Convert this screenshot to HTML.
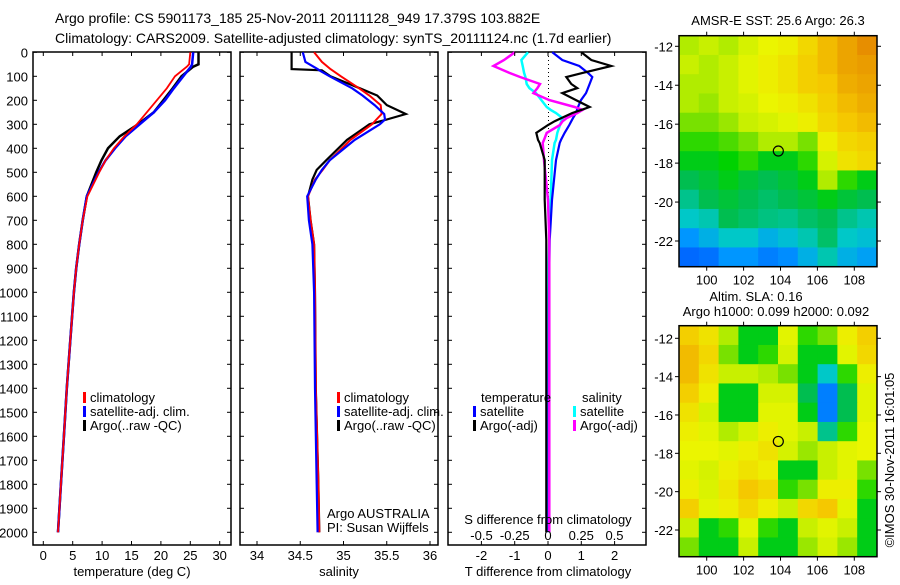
<!DOCTYPE html>
<html><head><meta charset="utf-8"><style>
html,body{margin:0;padding:0;background:#fff;}
svg text{font-family:"Liberation Sans",sans-serif;fill:#000;}
</style></head><body>
<svg id="c" width="900" height="580" viewBox="0 0 900 580" xmlns="http://www.w3.org/2000/svg">
<text x="55" y="23" font-size="14">Argo profile: CS 5901173_185 25-Nov-2011 20111128_949 17.379S 103.882E</text>
<text x="55" y="43" font-size="14">Climatology: CARS2009. Satellite-adjusted climatology: synTS_20111124.nc (1.7d earlier)</text>
<g id="g"></g>
</svg>
<script>
// ---- data ----
const tDepths=[0,50,60,100,150,200,250,300,350,400,450,500,600,700,800,900,1000,1200,1400,1600,1800,2000];
const tempArgo=[26.4,26.4,25.5,23.5,22.0,20.4,18.8,16.1,13.0,11.0,9.9,9.0,7.4,6.7,6.1,5.6,5.2,4.6,4.0,3.5,3.0,2.5];
const tempClim=[25.0,24.8,24.4,22.4,21.0,19.3,17.6,15.9,13.8,12.0,10.6,9.5,7.5,6.7,6.1,5.6,5.2,4.6,4.0,3.5,3.0,2.5];
const tempSat=[25.5,25.3,25.1,23.8,22.2,20.7,18.8,16.4,14.0,12.2,10.6,9.4,7.4,6.7,6.1,5.6,5.2,4.6,4.0,3.5,3.0,2.5];
const sDepths=[0,40,70,75,100,150,180,220,257,280,300,365,450,490,530,600,700,800,1000,1400,1800,2000];
const salArgo=[34.40,34.40,34.40,34.75,34.85,35.19,35.39,35.5,35.72,35.5,35.3,35.04,34.8,34.69,34.64,34.59,34.62,34.66,34.67,34.68,34.71,34.72];
const salClim=[34.66,34.75,34.85,34.87,34.97,35.18,35.3,35.43,35.44,35.38,35.33,35.08,34.84,34.76,34.67,34.59,34.62,34.66,34.67,34.68,34.71,34.72];
const salSat=[34.53,34.56,34.7,34.72,34.84,35.1,35.22,35.36,35.47,35.48,35.42,35.13,34.84,34.75,34.68,34.58,34.6,34.64,34.66,34.67,34.69,34.70];
const dDepths=[0,32,57,86,103,132,149,170,199,228,240,253,274,287,303,336,365,378,449,615,782,1000,1500,2000];
const tDiffArgo=[1.0,1.3,1.9,1.04,0.55,0.7,0.88,0.43,0.84,1.25,1.0,0.73,0.4,0.2,0.0,-0.35,-0.3,-0.25,-0.1,-0.1,-0.05,-0.05,-0.05,-0.05];
const tDiffSat=[0.13,0.43,0.94,1.2,1.33,1.25,1.2,1.14,0.99,0.9,0.87,0.84,0.75,0.7,0.64,0.5,0.39,0.35,0.24,0.12,0.05,0.03,0.02,0.02];
const sDiffArgo=[-0.25,-0.33,-0.41,-0.29,-0.21,-0.06,-0.08,-0.11,0.01,0.2,0.26,0.22,0.14,0.11,0.09,-0.01,-0.03,-0.04,-0.03,0,0.01,0.01,0.01,0.01];
const sDiffSat=[-0.15,-0.2,-0.19,-0.18,-0.17,-0.16,-0.14,-0.09,-0.05,-0.01,0.02,0.06,0.11,0.1,0.09,0.07,0.06,0.05,0.03,0.02,0.01,0,0,0];
const depthTicks=[0,100,200,300,400,500,600,700,800,900,1000,1100,1200,1300,1400,1500,1600,1700,1800,1900,2000];
const tempTicks=[0,5,10,15,20,25,30];
const salTicks=[34,34.5,35,35.5,36];
const tDiffTicks=[-2,-1,0,1,2];
const sDiffTicks=[-0.5,-0.25,0,0.25,0.5];
const sDiffTickLabels=["-0.5","-0.25","0","0.25","0.5"];
const lonTicks=[100,102,104,106,108];
const latTicks=[-12,-14,-16,-18,-20,-22];
const sstGrid=[
[.6,.62,.6,.65,.7,.72,.78,.85,.9,.95],
[.62,.6,.62,.68,.72,.75,.8,.85,.9,.92],
[.6,.6,.62,.68,.72,.75,.8,.82,.88,.9],
[.6,.58,.62,.65,.7,.72,.75,.8,.85,.88],
[.55,.55,.58,.62,.65,.68,.72,.78,.82,.85],
[.5,.5,.52,.55,.6,.6,.55,.72,.78,.8],
[.45,.45,.47,.5,.45,.45,.5,.65,.75,.78],
[.4,.42,.45,.42,.4,.42,.45,.6,.5,.45],
[.35,.4,.42,.4,.38,.4,.42,.45,.42,.4],
[.3,.32,.4,.38,.36,.35,.38,.4,.35,.32],
[.2,.25,.3,.3,.25,.28,.32,.38,.3,.28],
[.1,.12,.2,.2,.15,.18,.25,.32,.25,.22]];
const slaGrid=[
[.8,.75,.6,.45,.45,.68,.5,.55,.72,.8],
[.85,.78,.55,.45,.5,.65,.45,.45,.68,.78],
[.85,.75,.62,.62,.6,.55,.45,.3,.5,.72],
[.8,.72,.45,.45,.65,.65,.4,.15,.4,.68],
[.75,.65,.45,.45,.68,.68,.45,.15,.4,.68],
[.72,.68,.6,.65,.72,.68,.62,.35,.5,.7],
[.7,.7,.68,.72,.75,.65,.58,.62,.68,.7],
[.68,.65,.72,.75,.72,.45,.45,.62,.68,.55],
[.72,.66,.74,.82,.78,.5,.55,.72,.72,.5],
[.8,.68,.72,.78,.72,.62,.78,.82,.68,.45],
[.62,.45,.5,.68,.5,.45,.62,.68,.62,.45],
[.55,.45,.45,.62,.45,.45,.58,.65,.58,.45]];
const floatLon=103.882, floatLat=-17.379;

// ---- helpers ----
const NS="http://www.w3.org/2000/svg", G=document.getElementById('g');
function el(t,a,txt){const e=document.createElementNS(NS,t);for(const k in a)e.setAttribute(k,a[k]);if(txt!==undefined)e.textContent=txt;G.appendChild(e);return e;}
const yD=d=>52.3+d*0.24;
const PB=545;
const xT=v=>43.3+v*5.88, xS=v=>257+(v-34)*86.5, xTd=v=>548+v*33.3, xSd=v=>548+v*133;
function panel(x0,x1,name){const r=el('rect',{x:x0,y:52,width:x1-x0,height:PB-52,fill:'none',stroke:'#000','stroke-width':1.5});
 depthTicks.forEach(d=>{el('line',{x1:x0,x2:x0+4,y1:yD(d),y2:yD(d),stroke:'#000'});el('line',{x1:x1-4,x2:x1,y1:yD(d),y2:yD(d),stroke:'#000'});});}
function line(xs,ds,fx,col,name,w){const p=xs.map((v,i)=>fx(v).toFixed(1)+','+yD(ds[i]).toFixed(1)).join(' ');const e=el('polyline',{points:p,fill:'none',stroke:col,'stroke-width':w||2});}
function xticks(ticks,fx,labels,y,top){ticks.forEach((t,i)=>{const x=fx(t);el('line',{x1:x,x2:x,y1:PB,y2:PB-4,stroke:'#000'});if(top)el('line',{x1:x,x2:x,y1:52,y2:56,stroke:'#000'});const e=el('text',{x:x,y:y,'font-size':13,'text-anchor':'middle'},labels?labels[i]:String(t));});}
function legend(x,y,col,txt){el('rect',{x:x,y:y-10,width:3,height:11,fill:col});const e=el('text',{x:x+7,y:y,'font-size':13},txt);}

depthTicks.forEach(d=>{const e=el('text',{x:28,y:yD(d)+5,'font-size':13,'text-anchor':'end'},String(d));});

// Panel 1 temperature
panel(33,231,'temperature-panel');
xticks(tempTicks,xT,null,560,true);
el('text',{x:132,y:576,'font-size':13,'text-anchor':'middle',},'temperature (deg C)');
line(tempArgo,tDepths,xT,'#000','temp-argo-line',2.5);
line(tempSat,tDepths,xT,'#0000ff','temp-satellite-line',2.5);
line(tempClim,tDepths,xT,'#ff0000','temp-climatology-line',1.8);
legend(83,402,'#ff0000','climatology');legend(83,416,'#0000ff','satellite-adj. clim.');legend(83,430,'#000','Argo(..raw -QC)');

// Panel 2 salinity
panel(240,438,'salinity-panel');
xticks(salTicks,xS,null,560,true);
el('text',{x:339,y:576,'font-size':13,'text-anchor':'middle',},'salinity');
line(salArgo,sDepths,xS,'#000','salinity-argo-line',2.2);
line(salClim,sDepths,xS,'#ff0000','salinity-climatology-line',2);
line(salSat,sDepths,xS,'#0000ff','salinity-satellite-line',2.2);
legend(337,402,'#ff0000','climatology');legend(337,416,'#0000ff','satellite-adj. clim.');legend(337,430,'#000','Argo(..raw -QC)');
el('text',{x:327,y:518,'font-size':13,},'Argo AUSTRALIA');
el('text',{x:327,y:532,'font-size':13,},'PI: Susan Wijffels');

// Panel 3 differences
panel(448,646,'difference-panel');
el('line',{x1:548.5,x2:548.5,y1:52,y2:200,stroke:'#000','stroke-dasharray':'1,3',});
line(sDiffSat,dDepths,xSd,'#00ffff','salinity-diff-satellite-line',2.5);
line(tDiffSat,dDepths,xTd,'#0000ff','temp-diff-satellite-line',2.2);
line(sDiffArgo,dDepths,xSd,'#ff00ff','salinity-diff-argo-line',2.5);
line(tDiffArgo,dDepths,xTd,'#000','temp-diff-argo-line',2.2);
xticks(tDiffTicks,xTd,null,560,true);
sDiffTicks.forEach((t,i)=>{const e=el('text',{x:xSd(t),y:540,'font-size':13,'text-anchor':'middle'},sDiffTickLabels[i]);});
el('text',{x:548,y:524,'font-size':13,'text-anchor':'middle',},'S difference from climatology');
el('text',{x:548,y:576,'font-size':13,'text-anchor':'middle',},'T difference from climatology');
el('text',{x:481,y:402,'font-size':13,},'temperature');
el('text',{x:582,y:402,'font-size':13,},'salinity');
legend(473,416,'#0000ff','satellite');legend(473,430,'#000','Argo(-adj)');
legend(573,416,'#00ffff','satellite');legend(573,430,'#ff00ff','Argo(-adj)');

// ---- maps ----
function cmap(v){const st=[[0,[0,60,255]],[.2,[0,150,255]],[.3,[0,200,200]],[.4,[0,190,80]],[.47,[0,210,0]],[.55,[120,225,0]],[.62,[200,240,0]],[.7,[235,245,0]],[.82,[245,200,0]],[1,[225,120,0]]];
 for(let i=1;i<st.length;i++){if(v<=st[i][0]){const a=st[i-1],b=st[i],f=(v-a[0])/(b[0]-a[0]);return 'rgb('+a[1].map((c,k)=>Math.round(c+(b[1][k]-c)*f)).join(',')+')';}}return 'rgb(225,120,0)';}
function map(grid,top,bottom,latA,latB,name){
 const L=679,R=877,lonX=v=>706.7+(v-100)*18.45,latY=v=>latA+(v+12)*(latB-latA)/-10;
 const rows=grid.length,cols=grid[0].length,cw=(R-L)/cols,ch=(bottom-top)/rows;
 grid.forEach((row,r)=>row.forEach((v,c)=>{const e=el('rect',{x:L+c*cw,y:top+r*ch,width:cw+0.5,height:ch+0.5,fill:cmap(v)});}));
 const b=el('rect',{x:L,y:top,width:R-L,height:bottom-top,fill:'none',stroke:'#000','stroke-width':1.5});
 lonTicks.forEach(t=>{const x=lonX(t);el('line',{x1:x,x2:x,y1:bottom,y2:bottom+4,stroke:'#000'});el('line',{x1:x,x2:x,y1:top,y2:top-4,stroke:'#000'});const e=el('text',{x:x,y:bottom+18,'font-size':13,'text-anchor':'middle'},String(t));});
 latTicks.forEach(t=>{const y=latY(t);el('line',{x1:L-4,x2:L,y1:y,y2:y,stroke:'#000'});el('line',{x1:R,x2:R+4,y1:y,y2:y,stroke:'#000'});const e=el('text',{x:L-6,y:y+5,'font-size':13,'text-anchor':'end'},String(t));});
 const c=el('circle',{cx:lonX(floatLon),cy:latY(floatLat),r:5,fill:'none',stroke:'#000','stroke-width':1.2});
}
map(sstGrid,35.7,266.7,46.3,241,'sst-map');
map(slaGrid,325.7,556.7,338.3,530,'sla-map');
el('text',{x:778,y:25,'font-size':13,'text-anchor':'middle',},'AMSR-E SST: 25.6 Argo: 26.3');
el('text',{x:756,y:301,'font-size':13,'text-anchor':'middle',},'Altim. SLA: 0.16');
el('text',{x:776,y:316,'font-size':13,'text-anchor':'middle',},'Argo h1000: 0.099 h2000: 0.092');
el('text',{x:0,y:0,'font-size':13,'text-anchor':'middle',transform:'translate(894,460) rotate(-90)',},'©IMOS 30-Nov-2011 16:01:05');
</script>
</body></html>
